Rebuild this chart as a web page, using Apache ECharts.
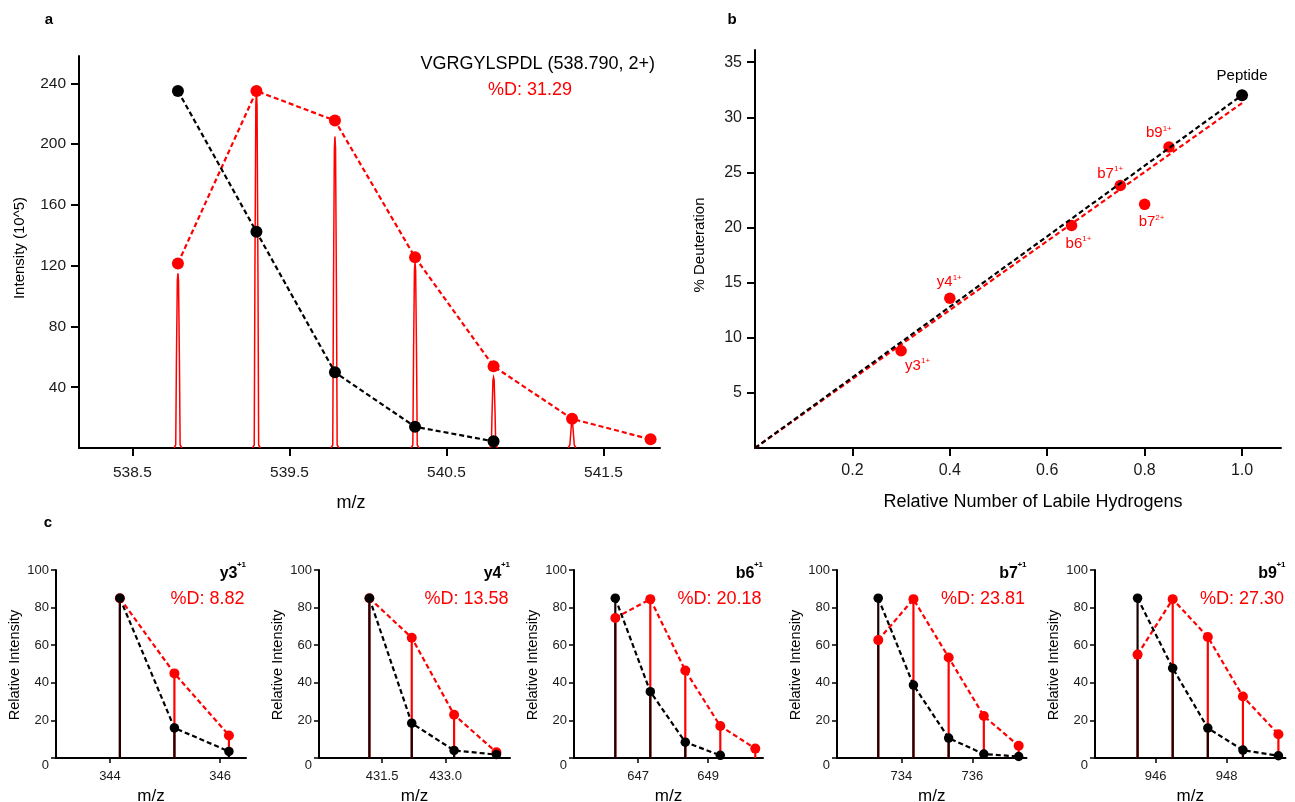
<!DOCTYPE html>
<html>
<head>
<meta charset="utf-8">
<script src="https://cdn.jsdelivr.net/npm/echarts@6/dist/echarts.min.js"></script>
<style>
  html, body { margin: 0; padding: 0; background: #ffffff; }
  #main { width: 1295px; height: 802px; }
</style>
</head>
<body>
<div id="main"></div>
<script>
// ---------- panel a: precursor isotope envelope of VGRGYLSPDL (2+) ----------
const envelopeMzA   = [538.79, 539.29, 539.79, 540.30, 540.80, 541.30, 541.80];
const undeutA       = [235, 142.3, 49.8, 14.0, 4.4];
const deutA         = [121.5, 235, 215.5, 125.5, 53.8, 19.2, 5.7];
const spectrumMzA   = [538.79, 539.29, 539.79, 540.30, 540.80, 541.30];
const spectrumIntA  = [115, 235, 205, 122, 46.5, 16.5];
const xTicksA       = [538.5, 539.5, 540.5, 541.5];
const yTicksA       = [40, 80, 120, 160, 200, 240];

// ---------- panel b: fragment deuteration vs labile hydrogens ----------
const fragNames     = ['y3', 'y4', 'b6', 'b7', 'b7', 'b9'];
const fragCharges   = ['1+', '1+', '1+', '1+', '2+', '1+'];
const fragLabile    = [0.30, 0.40, 0.65, 0.75, 0.80, 0.85];
const fragDeut      = [8.82, 13.58, 20.18, 23.81, 22.1, 27.30];
const peptideLabile = 1.0;
const peptideDeut   = 32.0;
const fragmentFitEnd = 31.29;
const xTicksB       = [0.2, 0.4, 0.6, 0.8, 1.0];
const yTicksB       = [5, 10, 15, 20, 25, 30, 35];

// ---------- panel c: fragment isotope envelopes ----------
const ionNames  = ['y3', 'y4', 'b6', 'b7', 'b9'];
const ionCharge = '+1';
const ionPctD   = ['8.82', '13.58', '20.18', '23.81', '27.30'];
const ionMz = [
  [344.18, 345.17, 346.16],
  [431.2, 432.2, 433.2, 434.2],
  [646.35, 647.35, 648.35, 649.35, 650.35],
  [733.35, 734.34, 735.33, 736.32, 737.30],
  [945.49, 946.48, 947.47, 948.46, 949.46]
];
const ionUndeut = [
  [85, 16, 3.5],
  [85, 18.5, 4, 1.8],
  [85, 35.3, 8.4, 1.4],
  [85, 38.8, 10.6, 2.1, 0.8],
  [85, 47.8, 15.9, 4.2, 1.2]
];
const ionDeut = [
  [85, 45, 12],
  [85, 64, 23, 3],
  [74.5, 84.5, 46.5, 17, 5],
  [62.7, 84.5, 53.5, 22.3, 6.5],
  [55, 84.5, 64.4, 32.7, 12.6]
];
const ionXTicks = [[344, 346], [431.5, 433.0], [647, 649], [734, 736], [946, 948]];
const yTicksC   = [0, 20, 40, 60, 80, 100];

// ---------- styling / layout ----------
const FONT  = "'Liberation Sans', Arial, Helvetica, sans-serif";
const RED   = '#ff0000';
const BLACK = '#000000';
const TXT   = '#1a1a1a';
const DASH  = [5, 3];

const gridA = { left: 79, top: 56, width: 581, height: 392 };
const gridB = { left: 755, top: 50, width: 526, height: 398 };
const cLefts  = [56, 319, 574, 837, 1095];
const cWidths = [190, 191, 189, 189.5, 190.5];
const cRanges = [[343.02, 346.47], [430.01, 434.52], [645.17, 650.57], [732.19, 737.52], [944.29, 949.66]];
const cTop = 570, cHeight = 188;

function pairs(xs, ys) { return ys.map((y, i) => [xs[i], y]); }

function axis(o) {
  return {
    type: 'value', gridIndex: o.grid, min: o.min, max: o.max,
    axisLine: { show: true, onZero: false, lineStyle: { color: BLACK, width: 2 } },
    axisTick: { show: true, inside: false, length: o.tick, customValues: o.ticks,
                lineStyle: { color: BLACK, width: o.tickWidth || 2 } },
    axisLabel: { show: true, customValues: o.ticks, formatter: o.fmt, fontFamily: FONT,
                 fontSize: o.fs, color: TXT, margin: o.margin, rich: o.rich },
    splitLine: { show: false },
    splitArea: { show: false }
  };
}

// narrow profile peak drawn from (m/z, intensity)
function renderPeak(params, api) {
  const top = api.coord([api.value(0), api.value(1)]);
  const base = api.coord([api.value(0), 0]);
  const h = base[1] - top[1];
  const bx = base[0], by = base[1];
  return {
    type: 'polyline',
    shape: { points: [
      [bx - 4, by], [bx - 2.2, by - 3], [bx - 1.5, by - h * 0.5], [bx - 0.6, by - h * 0.96],
      [top[0], top[1]],
      [bx + 0.6, by - h * 0.96], [bx + 1.5, by - h * 0.5], [bx + 2.2, by - 3], [bx + 4, by]
    ] },
    style: { stroke: RED, lineWidth: 1.5, fill: null }
  };
}

function stemRenderer(color, width) {
  return function (params, api) {
    const p = api.coord([api.value(0), api.value(1)]);
    const b = api.coord([api.value(0), 0]);
    return { type: 'line', shape: { x1: b[0], y1: b[1], x2: p[0], y2: p[1] },
             style: { stroke: color, lineWidth: width } };
  };
}

function dashedLine(name, xi, yi, data, color, size) {
  return {
    name, type: 'line', xAxisIndex: xi, yAxisIndex: yi, data,
    symbol: 'circle', symbolSize: size, showSymbol: true,
    lineStyle: { color, width: 2.2, type: DASH },
    itemStyle: { color, borderWidth: 0, opacity: 1 },
    silent: true, animation: false
  };
}

const grids = [gridA, gridB].concat(cLefts.map((l, i) => ({ left: l, top: cTop, width: cWidths[i], height: cHeight })))
  .map(g => Object.assign({ containLabel: false, outerBoundsMode: 'none' }, g));

const xAxes = [
  axis({ grid: 0, min: 538.16, max: 541.86, ticks: xTicksA, fmt: v => v.toFixed(1), fs: 15.5, margin: 17, tick: 8 }),
  axis({ grid: 1, min: 0, max: 1.08, ticks: xTicksB, fmt: v => v.toFixed(1), fs: 16, margin: 15, tick: 8 })
];
const yAxes = [
  axis({ grid: 0, min: 0, max: 258, ticks: yTicksA, fmt: v => String(v), fs: 15.5, margin: 13, tick: 8 }),
  axis({ grid: 1, min: 0, max: 36.1, ticks: yTicksB, fmt: v => String(v), fs: 16, margin: 13, tick: 8 })
];
ionNames.forEach((n, i) => {
  const dec = ionXTicks[i].some(v => v % 1 !== 0) ? 1 : 0;
  xAxes.push(axis({ grid: 2 + i, min: cRanges[i][0], max: cRanges[i][1], ticks: ionXTicks[i],
                    fmt: v => v.toFixed(dec), fs: 13, margin: 12, tick: 5, tickWidth: 1.5 }));
  yAxes.push(axis({ grid: 2 + i, min: 0, max: 100, ticks: yTicksC,
                    fmt: v => (v === 0 ? '{z|0}' : String(v)), fs: 13, margin: 7, tick: 5, tickWidth: 1.5,
                    rich: { z: { fontSize: 13, color: TXT, fontFamily: FONT, padding: [14, 0, 0, 0] } } }));
});

const series = [];

// panel a
series.push({
  type: 'custom', xAxisIndex: 0, yAxisIndex: 0, renderItem: renderPeak,
  data: pairs(spectrumMzA, spectrumIntA), silent: true, animation: false, clip: true
});
series.push(dashedLine('deuterated', 0, 0, pairs(envelopeMzA, deutA), RED, 12));
series.push(dashedLine('undeuterated', 0, 0, pairs(envelopeMzA, undeutA), BLACK, 12));

// panel b
const fragLabelOffsets = [[4, 15], [-13, -16], [-6, 18], [-23, -12], [-6, 18], [-23, -14]];
series.push({
  type: 'line', xAxisIndex: 1, yAxisIndex: 1, data: [[0, 0], [peptideLabile, fragmentFitEnd]],
  symbol: 'none', lineStyle: { color: RED, width: 2.2, type: DASH }, silent: true, animation: false
});
series.push({
  type: 'line', xAxisIndex: 1, yAxisIndex: 1, data: [[0, 0], [peptideLabile, peptideDeut]],
  symbol: 'none', lineStyle: { color: BLACK, width: 2.2, type: DASH }, silent: true, animation: false
});
series.push({
  type: 'scatter', xAxisIndex: 1, yAxisIndex: 1, symbolSize: 11.5, silent: true, animation: false,
  itemStyle: { color: RED, opacity: 1 },
  data: fragNames.map((n, i) => ({
    value: [fragLabile[i], fragDeut[i]],
    label: { offset: fragLabelOffsets[i], formatter: '{m|' + n + '}{s|' + fragCharges[i] + '}' }
  })),
  label: {
    show: true, position: 'inside', align: 'left', verticalAlign: 'middle', opacity: 1,
    rich: {
      m: { fontSize: 15, color: RED, fontFamily: FONT, lineHeight: 17 },
      s: { fontSize: 8, color: RED, fontFamily: FONT, lineHeight: 9, verticalAlign: 'top' }
    }
  }
});
series.push({
  type: 'scatter', xAxisIndex: 1, yAxisIndex: 1, symbolSize: 12, silent: true, animation: false,
  itemStyle: { color: BLACK, opacity: 1 },
  data: [[peptideLabile, peptideDeut]],
  label: { show: true, position: 'inside', align: 'center', verticalAlign: 'middle', offset: [0, -19],
           formatter: 'Peptide', fontSize: 15, color: BLACK, fontFamily: FONT, opacity: 1 }
});

// panel c
ionNames.forEach((n, i) => {
  const ax = 2 + i;
  series.push({ type: 'custom', xAxisIndex: ax, yAxisIndex: ax, renderItem: stemRenderer(RED, 2.2),
                data: pairs(ionMz[i], ionDeut[i]), silent: true, animation: false });
  series.push({ type: 'custom', xAxisIndex: ax, yAxisIndex: ax, renderItem: stemRenderer('#1a0000', 2.2),
                data: pairs(ionMz[i], ionUndeut[i]), silent: true, animation: false });
  series.push(dashedLine('deuterated', ax, ax, pairs(ionMz[i], ionDeut[i]), RED, 10));
  series.push(dashedLine('undeuterated', ax, ax, pairs(ionMz[i], ionUndeut[i]), BLACK, 9.5));
});

// text annotations
function txt(x, y, text, o) {
  o = o || {};
  return {
    type: 'text', x, y, rotation: o.rot || 0, silent: true, z: 100,
    style: {
      text, fill: o.color || BLACK,
      font: (o.bold ? 'bold ' : '') + (o.size || 15) + 'px ' + FONT,
      textAlign: o.align || 'center', textVerticalAlign: 'middle',
      align: o.align || 'center', verticalAlign: 'middle'
    }
  };
}

const graphics = [
  txt(49, 20, 'a', { bold: true, size: 15 }),
  txt(732, 20, 'b', { bold: true, size: 15 }),
  txt(48, 523, 'c', { bold: true, size: 15 }),
  txt(655, 64, 'VGRGYLSPDL (538.790, 2+)', { size: 18, align: 'right' }),
  txt(530, 90, '%D: 31.29', { size: 18, color: RED }),
  txt(20, 248, 'Intensity (10^5)', { size: 15, rot: Math.PI / 2 }),
  txt(351, 503, 'm/z', { size: 18 }),
  txt(700, 245, '% Deuteration', { size: 15, rot: Math.PI / 2 }),
  txt(1033, 502, 'Relative Number of Labile Hydrogens', { size: 18 })
];
ionNames.forEach((n, i) => {
  const left = cLefts[i], right = cLefts[i] + cWidths[i];
  graphics.push(txt(right - 8.5, 573.5, n, { bold: true, size: 16, align: 'right' }));
  graphics.push(txt(right, 564.5, ionCharge, { bold: true, size: 8, align: 'right' }));
  graphics.push(txt(right - 1.5, 599, '%D: ' + ionPctD[i], { size: 18, color: RED, align: 'right' }));
  graphics.push(txt((left + right) / 2, 796, 'm/z', { size: 17 }));
  graphics.push(txt(left - 41, 665, 'Relative Intensity', { size: 14.5, rot: Math.PI / 2 }));
});

const chart = echarts.init(document.getElementById('main'), null, { renderer: 'canvas' });
chart.setOption({
  backgroundColor: '#ffffff',
  animation: false,
  textStyle: { fontFamily: FONT },
  grid: grids,
  xAxis: xAxes,
  yAxis: yAxes,
  series: series,
  graphic: graphics
});
</script>
</body>
</html>
